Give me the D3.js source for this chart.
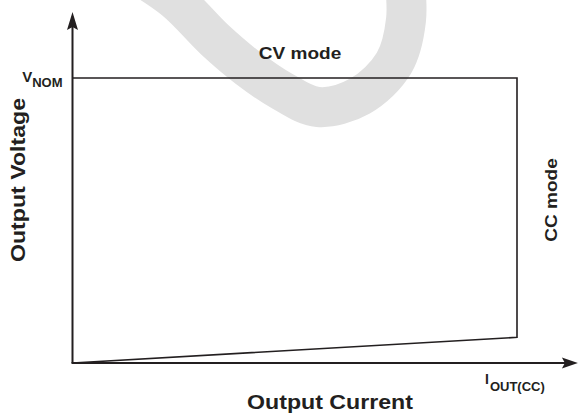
<!DOCTYPE html>
<html>
<head>
<meta charset="utf-8">
<script src="https://cdn.jsdelivr.net/npm/d3@7"></script>
<style>
html,body{margin:0;padding:0;background:#fff;}
svg{display:block;}
text{font-family:"Liberation Sans",Arial,Helvetica,sans-serif;font-weight:bold;fill:#231f20;}
</style>
</head>
<body>
<svg id="chart" width="579" height="413"></svg>
<script>
// Data (normalized units: current relative to I_OUT(CC), voltage relative to V_NOM)
const current = [0, 1, 1, 0];
const voltage = [0, 0.09, 1, 1];
const xTickValues = [1];
const xTickLabels = ["I", "OUT(CC)"];
const yTickValues = [1];
const yTickLabels = ["V", "NOM"];
const modeLabels = ["CV mode", "CC mode"];
const axisTitles = ["Output Current", "Output Voltage"];
// background watermark centre-line (decoration, pixel space)
const watermark = [[130,-30],[175,0],[215,40],[248,68],[282,91],[318,107],[360,96],[394,63],[406,20],[404,-25]];

const svg = d3.select("#chart");
const ink = "#231f20";
const x = d3.scaleLinear().domain([0, 1]).range([72.5, 517]);
const y = d3.scaleLinear().domain([0, 1]).range([363, 78]);
const xMax = 1.137, yMax = 1.232;

// watermark
svg.append("path")
  .attr("d", d3.line().curve(d3.curveCatmullRom)(watermark))
  .attr("fill", "none").attr("stroke", "#e0e0e0").attr("stroke-width", 40);

// operating boundary
const pts = current.map((c, i) => [x(c), y(voltage[i])]);
svg.append("path")
  .attr("d", d3.line()(pts))
  .attr("fill", "none").attr("stroke", ink).attr("stroke-width", 1.6);

// axes
svg.append("line").attr("x1", x(0)).attr("y1", y(0)).attr("x2", x(0)).attr("y2", y(yMax) + 12)
  .attr("stroke", ink).attr("stroke-width", 2);
svg.append("line").attr("x1", x(0) - 1).attr("y1", y(0)).attr("x2", x(xMax) - 12).attr("y2", y(0))
  .attr("stroke", ink).attr("stroke-width", 2);
// arrowheads
const yt = [x(0), y(yMax)];
svg.append("path").attr("fill", ink)
  .attr("d", `M${yt[0]},${yt[1]} L${yt[0]+5.5},${yt[1]+18} L${yt[0]},${yt[1]+15} L${yt[0]-5.5},${yt[1]+18} Z`);
const xt = [x(xMax), y(0)];
svg.append("path").attr("fill", ink)
  .attr("d", `M${xt[0]},${xt[1]} L${xt[0]-16},${xt[1]-5.5} L${xt[0]-13},${xt[1]} L${xt[0]-16},${xt[1]+5.5} Z`);

// y tick label V_NOM
const vt = svg.append("text").attr("x", x(0) - 10).attr("y", y(yTickValues[0]) + 5).attr("text-anchor", "end");
vt.append("tspan").attr("font-size", 15).attr("dy", -1).text(yTickLabels[0]);
vt.append("tspan").attr("font-size", 13).attr("dy", 5).text(yTickLabels[1]);

// x tick label I_OUT(CC)
const it = svg.append("text").attr("x", x(xTickValues[0]) - 32).attr("y", y(0) + 21);
it.append("tspan").attr("font-size", 14).text(xTickLabels[0]);
it.append("tspan").attr("font-size", 13).attr("dx", 1).attr("dy", 7).text(xTickLabels[1]);

// mode labels
svg.append("text").attr("transform", "translate(300,59) scale(1.12,1)").attr("text-anchor", "middle")
  .attr("font-size", 17).text(modeLabels[0]);
svg.append("text").attr("transform", "translate(557,200) rotate(-90) scale(1.12,1)").attr("text-anchor", "middle")
  .attr("font-size", 17).text(modeLabels[1]);

// axis titles
svg.append("text").attr("transform", "translate(330,409) scale(1.13,1)").attr("text-anchor", "middle")
  .attr("font-size", 20.5).text(axisTitles[0]);
svg.append("text").attr("transform", "translate(25,180) rotate(-90) scale(1.13,1)").attr("text-anchor", "middle")
  .attr("font-size", 20.5).text(axisTitles[1]);
</script>
</body>
</html>
